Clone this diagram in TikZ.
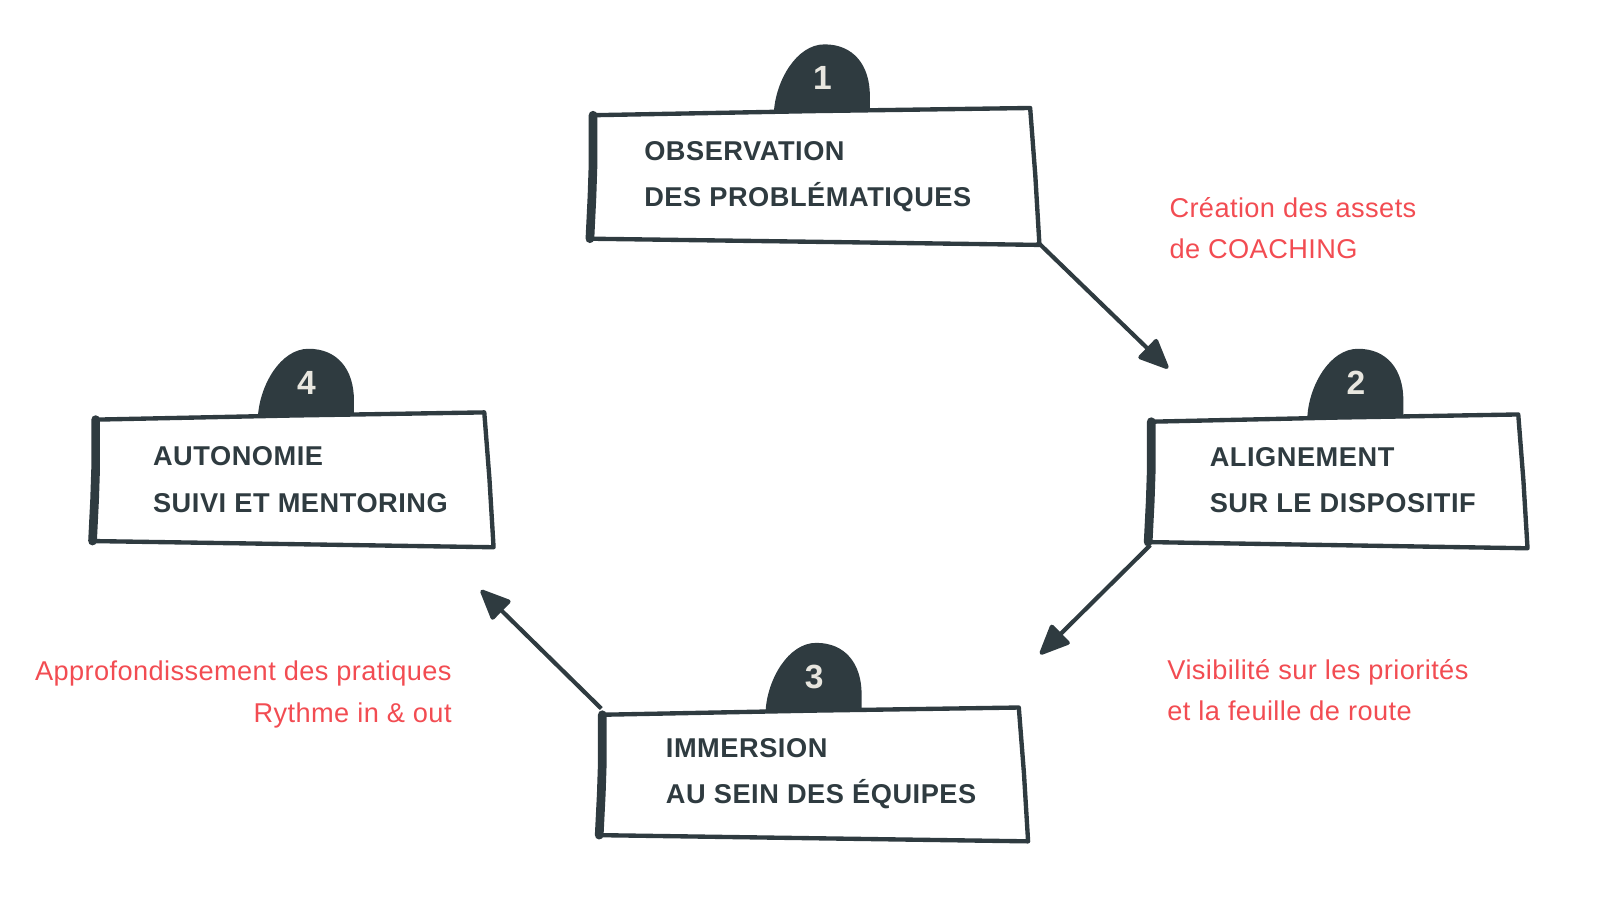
\documentclass[tikz,border=0pt]{standalone}
\usepackage{fontspec}
\setmainfont{Liberation Sans}
\newfontfamily\titlefont[LetterSpace=2]{Liberation Sans}
\newfontfamily\notefont[LetterSpace=1.5]{Liberation Sans}
\usetikzlibrary{arrows.meta, calc}
\definecolor{ink}{RGB}{47,59,64}
\definecolor{coral}{RGB}{242,76,82}
\definecolor{chalk}{RGB}{232,230,223}
\tikzstyle{box} = [rectangle, inner sep=0pt, draw=none]
\tikzstyle{frame} = [draw=ink, line width=2.4pt, line join=round, line cap=round]
\tikzstyle{title} = [anchor=west, align=left, inner sep=0pt, text=ink, font=\titlefont\fontsize{15}{25.6}\selectfont\bfseries]
\tikzstyle{note} = [inner sep=0pt, text=coral, font=\notefont\fontsize{15}{22.8}\selectfont]
\tikzstyle{num} = [inner sep=0pt, text=chalk, font=\fontsize{18.5}{18.5}\selectfont\bfseries]
\tikzstyle{arrow} = [draw=ink, line width=2.3pt, -{Triangle[length=0.64cm, width=0.54cm, round]}]
\newcommand{\sketchframe}[1]{%
  \draw[frame] ($(#1.north west)+(1,6)$) -- ($(#1.north)+(0,2)$) -- ($(#1.north east)+(-7,-1)$) -- ($(#1.east)+(-2,0)$) -- ($(#1.south east)+(2,3)$) -- ($(#1.south)+(0,0)$) -- ($(#1.south west)+(-2,-3)$);
  \draw[frame, line width=4.8pt] ($(#1.south west)+(-2,-3)$) -- ($(#1.west)+(0,20)$) -- ($(#1.west)+(1,-10)$) -- ($(#1.north west)+(1,6)$);
}
\newcommand{\numblob}[3]{%
  \fill[ink] ($#2+(-47,0)$) .. controls ($#2+(-45,-30)$) and ($#2+(-25,-65)$) .. ($#2+(2,-65)$) .. controls ($#2+(30,-65)$) and ($#2+(46,-45)$) .. ($#2+(46,-15)$) -- ($#2+(46,0)$) -- cycle;
  \node (#1) [num] at ($#2+(0,-32)$) {#3};
}

\begin{document}
\begin{tikzpicture}[x=0.02cm, y=-0.02cm]
\useasboundingbox (0,0) rectangle (1568,884);

\numblob{one}{(797,108)}{1}
\numblob{two}{(1314,403)}{2}
\numblob{three}{(789,688)}{3}
\numblob{four}{(297,403)}{4}

\node (obs) [box, minimum width=8.62cm, minimum height=2.56cm] at (789.5,170) {};
\node (ali) [box, minimum width=7.26cm, minimum height=2.5cm] at (1296.5,465.5) {};
\node (imm) [box, minimum width=8.22cm, minimum height=2.5cm] at (788.5,749.5) {};
\node (auto) [box, minimum width=7.68cm, minimum height=2.52cm] at (284,464) {};

\sketchframe{obs}
\sketchframe{ali}
\sketchframe{imm}
\sketchframe{auto}

\node (obstext) [title] at (624,171) {OBSERVATION\\DES PROBLÉMATIQUES};
\node (alitext) [title] at (1172,465.5) {ALIGNEMENT\\SUR LE DISPOSITIF};
\node (immtext) [title] at (645,750) {IMMERSION\\AU SEIN DES ÉQUIPES};
\node (autotext) [title] at (148,465) {AUTONOMIE\\SUIVI ET MENTORING};

\node (assets) [note, anchor=west, align=left] at (1133,221) {Création des assets\\de COACHING};
\node (visib) [note, anchor=west, align=left] at (1131,668.5) {Visibilité sur les priorités\\et la feuille de route};
\node (pratiq) [note, anchor=east, align=right] at (438,673) {Approfondissement des pratiques\\Rythme in \& out};

\coordinate (tip1) at (1132,357);
\coordinate (tip2) at (1008,634);
\coordinate (tip3) at (466,572);

\draw [arrow] (obs.south east) -- (tip1);
\draw [arrow] (ali.south west) -- (tip2);
\draw [arrow] (imm.north west) -- (tip3);

\end{tikzpicture}
\end{document}
